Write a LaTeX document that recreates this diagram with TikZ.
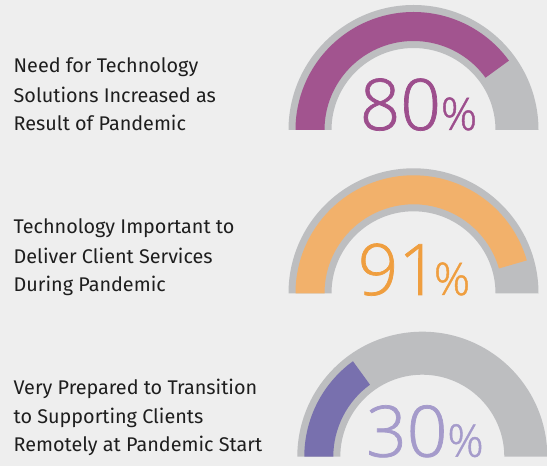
\documentclass[tikz,border=0pt]{standalone}
\usepackage{fontspec}
\setmainfont{Fira Sans}
\IfFontExistsTF{Open Sans Light}{\newfontfamily\numfont[FakeBold=1]{Open Sans Light}}{%
 \IfFontExistsTF{Fira Sans Light}{\newfontfamily\numfont{Fira Sans Light}}{%
  \IfFontExistsTF{Lato Light}{\newfontfamily\numfont{Lato Light}}{%
   \newfontfamily\numfont{Fira Sans}}}}
\definecolor{bgc}{HTML}{EEEEEE}
\definecolor{gaugegray}{HTML}{BDBEC0}
\definecolor{purpband}{HTML}{A2548F}
\definecolor{purptext}{HTML}{9D4E8D}
\definecolor{orband}{HTML}{F2B16B}
\definecolor{ortext}{HTML}{EF9E3F}
\definecolor{viband}{HTML}{7870AE}
\definecolor{vitext}{HTML}{A59BCB}
\definecolor{labeltext}{HTML}{1E1E1E}
\begin{document}
\begin{tikzpicture}[x=1pt,y=1pt,
  lbl/.style={anchor=base west,inner sep=0pt,text=labeltext,font=\fontsize{19.8}{24}\selectfont},
  pct/.style={anchor=base,inner sep=0pt}]
\useasboundingbox (0,0) rectangle (547,466);
\fill[bgc] (0,0) rectangle (547,466);
\clip (0,0) rectangle (547,466);
% gauge 1
\begin{scope}[shift={(413.5,336)}]
\fill[gaugegray] (0:125) arc[start angle=0,end angle=180,radius=125] -- (180:82) arc[start angle=180,end angle=0,radius=82] -- cycle;
\fill[purpband] (180:118) arc[start angle=180,end angle=36,radius=118] -- (36:89) arc[start angle=36,end angle=180,radius=89] -- cycle;
\end{scope}
\node[pct,text=purptext] (p1) at (418.5,336) {\numfont\fontsize{71}{71}\selectfont 80\fontsize{45}{45}\selectfont\%};
% gauge 2
\begin{scope}[shift={(413.5,172.7)}]
\fill[gaugegray] (0:125) arc[start angle=0,end angle=180,radius=125] -- (180:82) arc[start angle=180,end angle=0,radius=82] -- cycle;
\fill[orband] (180:118) arc[start angle=180,end angle=16.2,radius=118] -- (16.2:89) arc[start angle=16.2,end angle=180,radius=89] -- cycle;
\end{scope}
\node[pct,text=ortext] (p2) at (414,171) {\numfont\fontsize{71}{71}\selectfont 91\kern-5pt\fontsize{45}{45}\selectfont\%};
% gauge 3
\begin{scope}[shift={(422.3,9.3)}]
\fill[gaugegray] (0:125) arc[start angle=0,end angle=180,radius=125] -- (180:82) arc[start angle=180,end angle=0,radius=82] -- cycle;
\fill[viband] (180:118) arc[start angle=180,end angle=126,radius=118] -- (126:89) arc[start angle=126,end angle=180,radius=89] -- cycle;
\end{scope}
\node[pct,text=vitext] (p3) at (425,9.3) {\numfont\fontsize{71}{71}\selectfont 30\fontsize{45}{45}\selectfont\%};
% labels
\node[lbl] (t1a) at (13.5,393.7) {Need for Technology};
\node[lbl] (t1b) at (13.5,363.7) {Solutions Increased as};
\node[lbl] (t1c) at (13.5,335.3) {Result of Pandemic};
\node[lbl] (t2a) at (13.5,232.7) {Technology Important to};
\node[lbl] (t2b) at (13.5,202.7) {Deliver Client Services};
\node[lbl] (t2c) at (13.5,174.3) {During Pandemic};
\node[lbl] (t3a) at (13.5,71.7) {Very Prepared to Transition};
\node[lbl] (t3b) at (13.5,42.7) {to Supporting Clients};
\node[lbl] (t3c) at (13.5,14.3) {Remotely at Pandemic Start};
\end{tikzpicture}
\end{document}
